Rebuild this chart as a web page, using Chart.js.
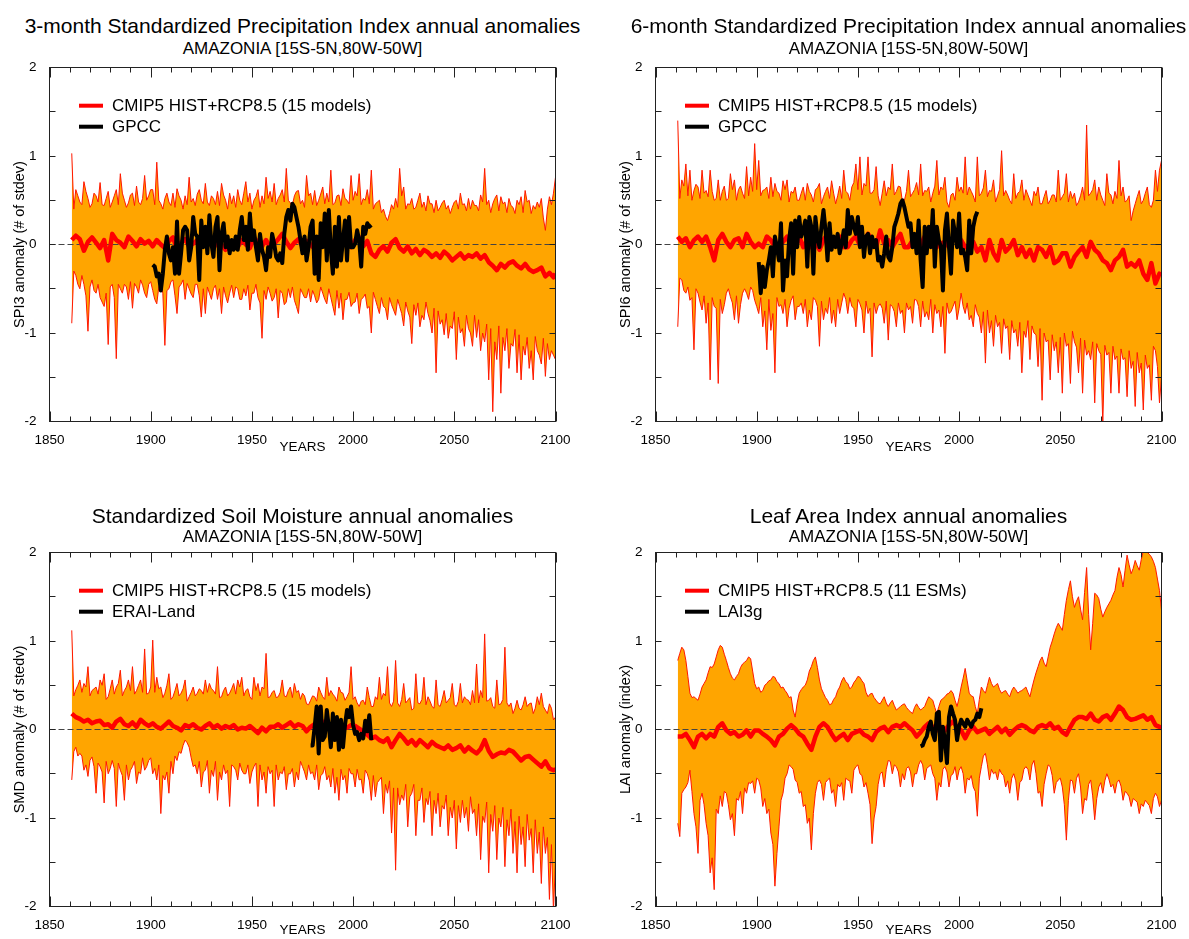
<!DOCTYPE html>
<html>
<head>
<meta charset="utf-8">
<script src="https://cdn.jsdelivr.net/npm/chart.js@4.4.1/dist/chart.umd.min.js"></script>
<style>
html,body{margin:0;padding:0;background:#fff;width:1189px;height:939px;overflow:hidden;position:relative;}
canvas{position:absolute;left:0;top:0;}
.txt{position:absolute;width:800px;text-align:center;white-space:nowrap;line-height:1;color:#000;font-family:"Liberation Sans",Arial,Helvetica,sans-serif;}
</style>
</head>
<body>
<script>
// ---------------- DATA ----------------
// ensemble envelope (annual, first year below)
const envStart = 1861;
// ensemble mean sampled every other year
const meanYears = [
1861,1863,1865,1867,1869,1871,1873,1875,1877,1879,
1881,1883,1885,1887,1889,1891,1893,1895,1897,1899,
1901,1903,1905,1907,1909,1911,1913,1915,1917,1919,
1921,1923,1925,1927,1929,1931,1933,1935,1937,1939,
1941,1943,1945,1947,1949,1951,1953,1955,1957,1959,
1961,1963,1965,1967,1969,1971,1973,1975,1977,1979,
1981,1983,1985,1987,1989,1991,1993,1995,1997,1999,
2001,2003,2005,2007,2009,2011,2013,2015,2017,2019,
2021,2023,2025,2027,2029,2031,2033,2035,2037,2039,
2041,2043,2045,2047,2049,2051,2053,2055,2057,2059,
2061,2063,2065,2067,2069,2071,2073,2075,2077,2079,
2081,2083,2085,2087,2089,2091,2093,2095,2097,2099,
2100];

const xTickLabels = [1850, 1900, 1950, 2000, 2050, 2100];
const yTickLabels = [-2, -1, 0, 1, 2];
const zeroLineX = [1850, 2100];
const zeroLineY = [0, 0];

// Panel 1: SPI3
const spi3Upper = [
1.03,0.40,0.62,0.55,0.48,0.45,0.71,0.60,0.52,0.42,0.46,0.58,0.55,0.48,0.70,0.45,0.44,0.52,0.60,0.42,
0.48,0.55,0.62,0.45,0.80,0.58,0.50,0.42,0.47,0.56,0.58,0.44,0.66,0.48,0.45,0.52,0.78,0.50,0.55,0.62,
0.62,0.45,0.93,0.50,0.46,0.40,0.52,0.58,0.48,0.44,0.58,0.42,0.63,0.55,0.50,0.40,0.55,0.45,0.76,0.48,
0.52,0.44,0.57,0.62,0.50,0.46,0.69,0.48,0.44,0.55,0.52,0.45,0.60,0.44,0.69,0.56,0.50,0.40,0.58,0.46,
0.55,0.42,0.62,0.50,0.45,0.58,0.71,0.48,0.58,0.40,0.50,0.54,0.62,0.42,0.55,0.46,0.76,0.52,0.60,0.48,
0.69,0.45,0.52,0.56,0.62,0.48,0.86,0.50,0.47,0.44,0.55,0.60,0.61,0.46,0.50,0.42,0.78,0.55,0.58,0.45,
0.61,0.44,0.50,0.57,0.65,0.46,0.58,0.48,0.84,0.45,0.47,0.55,0.56,0.44,0.63,0.52,0.50,0.46,0.78,0.50,
0.60,0.55,0.80,0.45,0.52,0.50,0.62,0.46,0.84,0.40,0.46,0.48,0.50,0.36,0.40,0.32,0.27,0.35,0.45,0.40,
0.52,0.42,0.86,0.55,0.65,0.40,0.46,0.45,0.52,0.40,0.42,0.50,0.58,0.42,0.48,0.38,0.55,0.46,0.46,0.36,
0.50,0.38,0.42,0.47,0.50,0.40,0.44,0.35,0.42,0.48,0.50,0.40,0.58,0.45,0.46,0.38,0.52,0.40,0.50,0.44,
0.44,0.38,0.56,0.48,0.86,0.45,0.50,0.36,0.46,0.52,0.56,0.38,0.54,0.46,0.48,0.36,0.52,0.44,0.42,0.35,
0.50,0.45,0.54,0.36,0.61,0.48,0.50,0.35,0.44,0.40,0.48,0.42,0.52,0.30,0.16,0.40,0.54,0.45,0.58,0.76];
const spi3Lower = [
-0.89,-0.30,-0.35,-0.45,-0.50,-0.35,-0.45,-0.58,-0.98,-0.48,-0.40,-0.52,-0.55,-0.45,-0.60,-0.65,-0.70,-0.55,-1.13,-0.48,
-0.45,-0.60,-1.29,-0.45,-0.50,-0.55,-0.45,-0.48,-0.62,-0.42,-0.72,-0.44,-0.48,-0.55,-0.40,-0.46,-0.55,-0.60,-0.45,-0.42,
-0.52,-0.62,-0.67,-0.48,-0.45,-0.55,-1.14,-0.52,-0.50,-0.42,-0.40,-0.58,-0.78,-0.48,-0.45,-0.40,-0.62,-0.44,-0.50,-0.56,
-0.60,-0.45,-0.45,-0.58,-0.82,-0.50,-0.78,-0.48,-0.55,-0.62,-0.50,-0.46,-0.62,-0.50,-0.78,-0.48,-0.58,-0.66,-0.55,-0.46,
-0.60,-0.48,-0.50,-0.62,-0.62,-0.50,-0.58,-0.46,-0.74,-0.55,-0.55,-0.45,-0.60,-0.66,-1.06,-0.52,-0.62,-0.48,-0.55,-0.64,
-0.60,-0.50,-0.83,-0.52,-0.55,-0.68,-0.65,-0.50,-0.60,-0.48,-0.63,-0.70,-0.78,-0.50,-0.55,-0.60,-0.60,-0.50,-0.65,-0.52,
-0.58,-0.66,-0.62,-0.48,-0.55,-0.62,-0.67,-0.50,-0.60,-0.70,-0.80,-0.52,-0.72,-0.55,-0.85,-0.62,-0.62,-0.54,-0.70,-0.66,
-0.65,-0.55,-0.78,-0.62,-0.60,-0.56,-0.72,-0.70,-1.00,-0.54,-0.62,-0.70,-0.78,-0.60,-0.70,-0.72,-0.85,-0.60,-0.68,-0.74,
-0.80,-0.62,-0.70,-0.78,-0.92,-0.65,-0.75,-0.82,-1.12,-0.68,-0.80,-0.66,-0.93,-0.80,-0.85,-0.65,-0.78,-0.86,-1.00,-0.72,
-1.45,-0.75,-0.90,-0.85,-1.02,-0.78,-1.06,-0.92,-0.95,-0.76,-1.30,-0.82,-1.00,-0.95,-1.15,-0.80,-0.95,-1.00,-1.15,-0.80,
-1.05,-0.85,-1.20,-1.00,-1.10,-0.90,-1.53,-0.95,-1.89,-1.10,-1.30,-0.92,-1.68,-1.05,-1.20,-0.95,-1.40,-1.12,-1.15,-0.96,
-1.45,-1.02,-1.53,-1.15,-1.25,-1.05,-1.40,-1.20,-1.53,-1.04,-1.20,-1.25,-1.35,-1.06,-1.49,-1.12,-1.30,-1.20,-1.25,-1.30];
const spi3Mean = [
0.05,0.10,0.06,-0.07,0.03,0.08,0.02,-0.04,0.05,-0.18,
0.12,0.05,0.02,-0.03,0.09,0.04,-0.02,0.06,0.01,0.04,
-0.02,0.05,0.00,-0.04,0.04,0.08,-0.05,0.02,0.06,-0.02,
0.01,0.05,-0.03,0.02,0.07,-0.04,0.03,0.00,-0.06,0.04,
0.02,-0.03,0.05,0.00,-0.04,0.08,0.02,-0.02,0.05,-0.03,
0.01,0.06,0.12,0.03,-0.04,0.02,0.06,-0.02,0.04,0.00,
-0.05,0.03,0.07,-0.02,0.04,0.00,-0.06,0.05,0.02,-0.03,
0.05,0.08,-0.02,0.04,-0.10,-0.14,-0.06,-0.02,-0.08,0.02,
0.06,-0.04,-0.08,-0.02,-0.10,-0.05,-0.12,-0.06,-0.09,-0.14,
-0.10,-0.15,-0.08,-0.12,-0.18,-0.14,-0.10,-0.16,-0.12,-0.14,
-0.10,-0.16,-0.12,-0.20,-0.24,-0.29,-0.22,-0.26,-0.21,-0.19,
-0.24,-0.27,-0.22,-0.28,-0.31,-0.29,-0.26,-0.36,-0.32,-0.37,
-0.33];
const gpccStart = 1901;
const gpccSpi3 = [
-0.23,-0.25,-0.36,-0.33,-0.52,-0.33,-0.06,0.09,-0.10,-0.18,
-0.03,-0.33,0.26,-0.33,-0.10,0.16,0.20,0.16,-0.18,-0.03,
0.31,0.12,0.09,-0.40,0.27,-0.03,0.20,-0.10,0.33,0.01,
-0.14,0.20,0.31,-0.29,0.12,0.24,-0.03,0.09,-0.10,0.05,
-0.06,0.09,-0.06,0.16,0.31,0.05,0.20,-0.06,0.35,0.05,
0.16,-0.03,-0.18,0.12,-0.06,-0.14,-0.29,-0.03,-0.14,0.12,
0.01,-0.14,-0.18,-0.10,-0.21,0.12,0.31,0.39,0.27,0.46,
0.42,0.31,0.20,0.05,-0.10,0.09,-0.18,-0.03,0.20,0.27,
-0.33,0.09,-0.40,0.24,-0.03,0.35,-0.18,0.39,-0.06,-0.33,
0.20,-0.25,0.31,-0.18,0.05,0.27,-0.18,0.31,-0.03,-0.03,
0.01,0.16,0.05,-0.25,0.20,0.12,0.24,0.20,0.22];

// Panel 2: SPI6
const spi6Upper = [
1.40,0.52,0.73,0.66,0.91,0.55,0.84,0.50,0.61,0.68,0.65,0.52,0.84,0.58,0.61,0.54,0.84,0.60,0.50,0.52,
0.73,0.50,0.60,0.66,0.50,0.52,0.80,0.62,0.73,0.50,0.62,0.66,0.58,0.52,0.88,0.55,0.76,0.60,1.14,0.62,
0.95,0.55,0.61,0.62,0.65,0.52,0.76,0.54,0.69,0.60,0.58,0.50,0.72,0.62,0.73,0.48,0.60,0.58,0.65,0.50,
0.50,0.58,0.65,0.50,0.69,0.60,0.56,0.48,0.62,0.64,0.69,0.46,0.54,0.60,0.65,0.52,0.72,0.58,0.46,0.55,
0.66,0.52,0.84,0.60,0.58,0.50,0.65,0.70,0.91,0.62,0.99,0.56,0.69,0.66,0.99,0.58,0.58,0.62,0.88,0.55,
0.44,0.58,0.72,0.55,0.65,0.62,0.91,0.56,0.60,0.66,0.65,0.48,0.50,0.60,0.84,0.54,0.58,0.62,0.70,0.56,
0.91,0.55,0.61,0.60,0.65,0.48,0.58,0.66,0.95,0.56,0.65,0.62,0.76,0.48,0.42,0.56,0.58,0.50,0.76,0.60,
0.65,0.58,0.99,0.56,0.65,0.60,0.55,0.48,0.99,0.55,0.58,0.64,0.84,0.54,0.61,0.60,0.73,0.48,0.55,0.62,
1.06,0.55,0.61,0.56,0.50,0.46,0.80,0.52,0.58,0.60,0.73,0.50,0.62,0.56,0.50,0.44,0.60,0.55,0.65,0.46,
0.46,0.54,0.61,0.46,0.50,0.56,0.56,0.48,0.84,0.50,0.54,0.58,0.80,0.48,0.60,0.52,0.58,0.44,0.48,0.55,
0.65,0.50,1.35,0.55,0.58,0.62,0.73,0.50,0.65,0.56,0.50,0.44,0.80,0.58,0.56,0.46,0.60,0.52,0.95,0.55,
0.65,0.48,0.50,0.55,0.27,0.38,0.46,0.54,0.61,0.46,0.50,0.58,0.65,0.45,0.42,0.50,0.84,0.60,0.84,0.95];
const spi6Lower = [
-0.93,-0.38,-0.40,-0.52,-0.55,-0.48,-0.63,-0.60,-1.19,-0.50,-0.55,-0.65,-0.74,-0.58,-0.89,-0.66,-1.53,-0.60,-0.70,-0.72,
-1.57,-0.62,-0.78,-0.68,-0.55,-0.50,-0.59,-0.66,-0.85,-0.58,-0.89,-0.68,-0.55,-0.50,-0.55,-0.62,-0.48,-0.52,-0.63,-0.70,
-0.78,-0.60,-0.93,-0.75,-1.19,-0.62,-0.97,-0.78,-1.45,-0.60,-0.70,-0.68,-0.78,-0.62,-0.93,-0.72,-0.63,-0.58,-0.85,-0.70,
-0.70,-0.66,-0.78,-0.62,-0.93,-0.74,-0.85,-0.60,-0.63,-0.70,-1.15,-0.64,-0.85,-0.72,-0.78,-0.60,-0.89,-0.74,-0.93,-0.62,
-0.78,-0.66,-0.55,-0.62,-0.78,-0.60,-0.70,-0.72,-0.93,-0.62,-0.67,-0.74,-1.00,-0.64,-0.78,-0.72,-1.27,-0.66,-0.78,-0.70,
-0.67,-0.72,-0.89,-0.64,-1.08,-0.68,-0.70,-0.76,-0.93,-0.66,-0.78,-0.74,-1.00,-0.66,-0.74,-0.70,-0.89,-0.62,-0.63,-0.70,
-0.93,-0.64,-0.82,-0.76,-0.85,-0.62,-1.00,-0.68,-0.78,-0.74,-0.93,-0.70,-1.23,-0.66,-0.78,-0.76,-0.70,-0.64,-0.85,-0.72,
-0.55,-0.70,-0.78,-0.66,-0.85,-0.80,-0.93,-0.68,-0.78,-0.82,-1.00,-0.76,-1.34,-0.74,-1.00,-0.86,-1.15,-0.80,-0.93,-0.88,
-1.23,-0.84,-0.95,-0.92,-1.30,-0.86,-1.00,-0.96,-1.15,-0.88,-1.45,-0.98,-1.05,-0.86,-1.30,-0.92,-1.00,-1.02,-1.38,-0.95,
-1.76,-1.00,-1.10,-1.08,-1.53,-1.02,-1.20,-1.10,-1.45,-1.05,-1.68,-1.00,-1.15,-1.12,-1.57,-0.98,-1.10,-1.16,-1.45,-1.06,
-1.68,-1.08,-1.25,-1.20,-1.30,-1.10,-1.79,-1.12,-1.20,-1.24,-2.02,-1.14,-1.25,-1.22,-1.68,-1.15,-1.30,-1.26,-1.68,-1.18,
-1.30,-1.28,-1.72,-1.20,-1.40,-1.32,-1.83,-1.22,-1.45,-1.34,-1.87,-1.25,-1.40,-1.36,-1.76,-1.15,-1.20,-1.38,-1.79,-1.49];
const spi6Mean = [
0.09,0.03,0.07,-0.03,0.05,0.09,0.03,0.09,-0.03,-0.18,
0.05,0.12,0.03,-0.03,0.05,0.07,-0.03,0.12,0.03,-0.03,
0.01,-0.03,0.09,0.05,-0.03,0.01,0.03,0.09,-0.03,-0.01,
0.09,-0.03,0.05,-0.03,0.03,-0.06,0.05,0.12,-0.03,0.01,
0.09,-0.03,-0.03,0.05,0.09,-0.01,0.03,0.12,0.05,-0.03,
0.16,0.01,0.05,-0.03,0.05,0.12,-0.03,-0.03,0.05,0.09,
-0.01,0.09,-0.01,0.09,-0.03,0.01,0.03,-0.03,0.05,0.09,
0.05,-0.03,-0.03,0.03,-0.08,-0.03,-0.18,0.05,-0.10,-0.18,
0.05,-0.08,-0.03,0.05,-0.12,-0.03,-0.14,-0.06,-0.18,-0.03,
-0.06,-0.14,-0.03,-0.21,-0.18,-0.10,-0.10,-0.25,-0.14,-0.08,
-0.03,-0.14,0.03,-0.06,-0.10,-0.18,-0.21,-0.29,-0.18,-0.14,
-0.06,-0.25,-0.21,-0.25,-0.18,-0.33,-0.40,-0.21,-0.44,-0.33,
-0.35];
const gpccSpi6 = [
-0.20,-0.55,-0.25,-0.48,-0.29,-0.18,-0.03,-0.36,0.09,-0.03,
-0.18,0.24,-0.52,-0.18,-0.36,0.05,0.24,-0.33,0.27,-0.03,
0.31,0.09,0.16,0.27,-0.25,0.31,0.20,-0.33,0.31,0.09,
-0.03,0.20,0.39,0.16,-0.18,0.24,-0.06,0.09,-0.03,0.12,
-0.10,0.01,0.16,-0.03,0.39,0.12,0.31,0.20,0.12,0.31,
-0.03,0.20,-0.14,0.09,0.12,-0.10,0.09,-0.03,0.05,-0.18,
-0.14,-0.25,-0.10,0.09,-0.14,-0.18,-0.03,0.20,0.27,0.35,
0.46,0.50,0.42,0.31,0.20,0.24,-0.03,0.12,-0.10,0.27,
-0.18,-0.48,0.20,-0.10,0.20,-0.03,0.39,-0.25,0.20,0.05,
-0.03,-0.52,0.16,0.35,-0.03,-0.33,0.27,0.12,-0.03,0.35,
-0.10,-0.06,-0.14,-0.29,0.27,-0.10,0.20,0.31,0.37];

// Panel 3: Soil moisture
const smdUpper = [
1.12,0.38,0.45,0.50,0.56,0.42,0.52,0.48,0.71,0.38,0.44,0.46,0.48,0.40,0.56,0.50,0.63,0.34,0.37,0.46,
0.56,0.40,0.48,0.52,0.67,0.38,0.44,0.48,0.56,0.44,0.71,0.40,0.44,0.50,0.56,0.42,0.91,0.40,0.41,0.48,
1.01,0.42,0.59,0.46,0.48,0.36,0.41,0.50,0.63,0.34,0.37,0.44,0.52,0.38,0.41,0.46,0.56,0.32,0.37,0.42,
0.48,0.38,0.41,0.46,0.44,0.40,0.56,0.42,0.52,0.46,0.44,0.40,0.71,0.36,0.37,0.44,0.48,0.38,0.41,0.46,
0.52,0.40,0.56,0.48,0.59,0.38,0.44,0.46,0.37,0.34,0.59,0.44,0.52,0.38,0.48,0.46,0.86,0.36,0.37,0.42,
0.44,0.36,0.37,0.42,0.56,0.38,0.37,0.44,0.48,0.36,0.52,0.42,0.44,0.34,0.41,0.38,0.29,0.28,0.33,0.38,
0.37,0.32,0.48,0.42,0.37,0.34,0.59,0.38,0.44,0.40,0.37,0.32,0.48,0.42,0.41,0.33,0.37,0.42,0.71,0.34,
0.37,0.30,0.26,0.32,0.33,0.28,0.48,0.36,0.26,0.26,0.37,0.34,0.59,0.34,0.41,0.38,0.71,0.30,0.26,0.32,
0.78,0.30,0.26,0.34,0.52,0.30,0.33,0.36,0.22,0.24,0.63,0.30,0.29,0.34,0.59,0.28,0.37,0.32,0.26,0.24,
0.56,0.28,0.26,0.34,0.44,0.30,0.33,0.36,0.52,0.28,0.26,0.32,0.52,0.30,0.37,0.34,0.33,0.28,0.44,0.30,
0.74,0.30,0.44,0.36,1.08,0.32,0.33,0.36,0.26,0.24,0.56,0.28,0.29,0.34,0.93,0.30,0.26,0.30,0.18,0.24,
0.33,0.24,0.22,0.28,0.37,0.26,0.29,0.30,0.18,0.24,0.37,0.28,0.41,0.26,0.22,0.18,0.29,0.24,0.11,0.14];
const smdLower = [
-0.57,-0.25,-0.20,-0.30,-0.27,-0.30,-0.46,-0.40,-0.53,-0.35,-0.31,-0.42,-0.72,-0.38,-0.42,-0.48,-0.83,-0.36,-0.50,-0.44,
-0.35,-0.44,-0.87,-0.38,-0.46,-0.52,-0.80,-0.40,-0.57,-0.46,-0.42,-0.36,-0.61,-0.48,-0.50,-0.32,-0.46,-0.42,-0.35,-0.32,
-0.50,-0.44,-0.57,-0.40,-0.95,-0.52,-0.57,-0.48,-0.72,-0.36,-0.50,-0.30,-0.35,-0.25,-0.27,-0.18,-0.12,-0.15,-0.20,-0.32,
-0.42,-0.40,-0.50,-0.36,-0.65,-0.48,-0.46,-0.35,-0.72,-0.46,-0.53,-0.36,-0.80,-0.48,-0.57,-0.40,-0.50,-0.46,-0.87,-0.40,
-0.42,-0.46,-0.57,-0.38,-0.46,-0.50,-0.50,-0.40,-0.61,-0.48,-0.42,-0.38,-0.87,-0.40,-0.57,-0.48,-0.72,-0.42,-0.50,-0.46,
-0.87,-0.40,-0.57,-0.48,-0.50,-0.42,-0.68,-0.50,-0.50,-0.44,-0.65,-0.48,-0.57,-0.36,-0.42,-0.48,-0.57,-0.40,-0.50,-0.48,
-0.57,-0.40,-0.68,-0.52,-0.50,-0.42,-0.57,-0.52,-0.65,-0.44,-0.72,-0.54,-0.80,-0.45,-0.57,-0.52,-0.72,-0.44,-0.50,-0.50,
-0.65,-0.45,-0.57,-0.56,-0.72,-0.46,-0.50,-0.58,-0.80,-0.52,-0.76,-0.60,-0.57,-0.54,-0.95,-0.62,-0.72,-0.58,-1.17,-0.66,
-1.59,-0.66,-0.85,-0.74,-0.80,-0.62,-1.10,-0.76,-0.72,-0.62,-1.20,-0.80,-0.80,-0.66,-1.05,-0.78,-0.85,-0.70,-1.20,-0.80,
-0.95,-0.72,-1.10,-0.86,-0.90,-0.74,-1.20,-0.88,-1.00,-0.80,-1.35,-0.86,-1.05,-0.80,-1.00,-0.88,-1.15,-0.76,-0.95,-0.90,
-1.20,-0.84,-1.47,-0.98,-1.05,-0.82,-1.62,-0.96,-1.15,-0.86,-1.47,-1.00,-1.10,-0.88,-1.55,-1.02,-1.20,-0.90,-1.40,-1.04,
-1.62,-0.98,-1.30,-1.10,-1.55,-0.96,-1.25,-1.12,-1.62,-1.02,-1.40,-1.16,-1.74,-1.10,-1.40,-1.22,-1.92,-1.30,-2.05,-1.47];
const smdMean = [
0.18,0.14,0.12,0.09,0.11,0.07,0.09,0.10,0.05,0.06,
0.02,0.09,0.12,0.06,0.04,0.08,0.03,0.11,0.07,0.04,
0.07,0.03,0.01,0.05,0.09,0.04,0.02,-0.01,0.05,0.03,
0.06,0.02,0.00,0.04,0.07,0.02,0.05,0.01,0.04,0.02,
0.05,0.00,0.02,0.01,0.04,0.00,-0.04,0.02,-0.02,0.03,
0.03,0.06,0.02,0.05,0.08,0.03,0.06,0.04,-0.02,0.03,
0.06,0.03,0.09,0.04,0.02,0.05,-0.01,0.04,0.02,0.05,
0.04,0.01,-0.02,-0.06,-0.10,-0.08,-0.12,-0.14,-0.10,-0.20,
-0.12,-0.05,-0.10,-0.16,-0.12,-0.18,-0.12,-0.16,-0.20,-0.14,
-0.18,-0.20,-0.22,-0.18,-0.23,-0.21,-0.18,-0.25,-0.20,-0.24,
-0.27,-0.22,-0.12,-0.24,-0.31,-0.28,-0.26,-0.27,-0.23,-0.25,
-0.30,-0.35,-0.31,-0.30,-0.34,-0.38,-0.42,-0.36,-0.44,-0.46,
-0.45];
const eraiStart = 1979;
const eraiSmd = [
-0.18,-0.18,0.03,0.26,-0.27,0.26,-0.12,-0.08,0.22,0.03,
-0.20,0.18,-0.12,0.14,-0.23,0.11,-0.20,0.05,0.22,0.14,
0.26,0.05,-0.05,-0.03,-0.12,-0.05,-0.10,0.10,-0.02,0.16,
-0.12];

// Panel 4: Leaf Area Index
const laiUpper = [
0.78,0.86,0.93,0.90,0.78,0.60,0.41,0.36,0.37,0.35,0.33,0.40,0.48,0.52,0.56,0.64,0.71,0.70,0.74,0.82,
0.90,0.95,0.93,0.85,0.78,0.70,0.63,0.58,0.56,0.60,0.63,0.70,0.74,0.76,0.78,0.82,0.80,0.66,0.52,0.46,
0.48,0.42,0.44,0.50,0.52,0.55,0.56,0.60,0.59,0.54,0.52,0.47,0.48,0.44,0.41,0.36,0.37,0.22,0.14,0.30,
0.41,0.45,0.48,0.50,0.56,0.66,0.71,0.78,0.82,0.70,0.56,0.46,0.41,0.36,0.33,0.28,0.29,0.34,0.37,0.44,
0.48,0.55,0.59,0.54,0.52,0.46,0.48,0.53,0.56,0.60,0.59,0.55,0.52,0.42,0.37,0.40,0.41,0.36,0.33,0.30,
0.29,0.33,0.37,0.30,0.26,0.30,0.33,0.27,0.22,0.24,0.26,0.28,0.29,0.25,0.22,0.20,0.18,0.25,0.29,0.25,
0.22,0.24,0.26,0.32,0.37,0.35,0.33,0.25,0.18,0.26,0.33,0.35,0.37,0.40,0.41,0.44,0.41,0.33,0.26,0.36,
0.48,0.58,0.69,0.55,0.41,0.38,0.37,0.26,0.18,0.34,0.48,0.44,0.41,0.50,0.59,0.52,0.48,0.50,0.52,0.45,
0.41,0.43,0.44,0.40,0.37,0.44,0.48,0.45,0.41,0.43,0.44,0.46,0.48,0.42,0.37,0.47,0.56,0.64,0.71,0.78,
0.82,0.75,0.71,0.82,0.93,1.00,1.08,1.15,1.20,1.16,1.12,1.30,1.46,1.58,1.68,1.50,1.38,1.45,1.50,1.36,
1.24,1.55,1.83,1.30,0.90,1.20,1.54,1.52,1.48,1.36,1.27,1.33,1.38,1.42,1.46,1.52,1.57,1.72,1.83,1.75,
1.61,1.80,1.97,1.86,1.76,1.82,1.91,1.85,1.80,1.92,2.02,2.05,2.00,1.98,1.95,1.90,1.83,1.70,1.57,1.35];
const laiLower = [
-1.06,-1.21,-0.72,-0.68,-0.65,-0.60,-0.46,-0.70,-0.95,-1.10,-1.40,-0.80,-0.72,-0.85,-1.06,-1.20,-1.62,-1.45,-1.81,-0.90,
-0.95,-0.75,-0.87,-0.70,-0.72,-0.85,-1.02,-0.95,-1.20,-0.78,-0.80,-0.70,-0.95,-0.66,-0.72,-0.60,-0.61,-0.58,-0.72,-0.55,
-0.57,-0.66,-0.87,-0.78,-0.95,-0.90,-1.17,-1.30,-1.77,-1.40,-1.10,-0.80,-0.72,-0.55,-0.50,-0.40,-0.42,-0.45,-0.57,-0.60,
-0.72,-0.70,-0.87,-0.85,-1.06,-1.00,-1.36,-0.95,-0.72,-0.60,-0.57,-0.62,-0.80,-0.60,-0.57,-0.55,-0.72,-0.68,-0.87,-0.62,
-0.65,-0.60,-0.80,-0.55,-0.57,-0.58,-0.72,-0.46,-0.42,-0.40,-0.50,-0.52,-0.65,-0.60,-0.72,-0.85,-1.29,-1.00,-0.87,-0.62,
-0.50,-0.48,-0.65,-0.45,-0.35,-0.36,-0.50,-0.40,-0.42,-0.48,-0.65,-0.50,-0.57,-0.44,-0.42,-0.48,-0.65,-0.50,-0.50,-0.40,
-0.35,-0.40,-0.57,-0.44,-0.42,-0.40,-0.50,-0.55,-0.80,-0.60,-0.65,-0.45,-0.42,-0.48,-0.65,-0.52,-0.50,-0.42,-0.57,-0.46,
-0.42,-0.50,-0.72,-0.55,-0.57,-0.52,-0.65,-0.70,-0.98,-0.55,-0.42,-0.30,-0.27,-0.40,-0.57,-0.45,-0.50,-0.48,-0.57,-0.45,
-0.50,-0.52,-0.65,-0.58,-0.72,-0.55,-0.50,-0.58,-0.80,-0.60,-0.57,-0.45,-0.42,-0.45,-0.57,-0.40,-0.35,-0.50,-0.72,-0.70,
-0.87,-0.62,-0.50,-0.40,-0.42,-0.52,-0.72,-0.60,-0.57,-0.55,-0.65,-0.85,-1.25,-0.80,-0.57,-0.58,-0.72,-0.55,-0.50,-0.65,
-0.95,-0.78,-0.80,-0.62,-0.57,-0.75,-1.02,-0.78,-0.65,-0.60,-0.72,-0.58,-0.50,-0.56,-0.65,-0.62,-0.72,-0.60,-0.57,-0.64,
-0.80,-0.70,-0.72,-0.76,-0.87,-0.78,-0.80,-0.82,-0.95,-0.84,-0.87,-0.80,-0.83,-0.86,-0.95,-0.78,-0.72,-0.76,-0.87,-0.80];
const laiMean = [
-0.08,-0.08,-0.05,-0.12,-0.20,-0.08,-0.05,-0.10,-0.05,-0.08,
0.03,0.07,-0.01,-0.05,-0.03,-0.08,-0.06,-0.01,-0.08,-0.01,
-0.01,-0.05,-0.08,-0.12,-0.18,-0.08,-0.05,0.01,0.05,0.01,
-0.05,-0.08,-0.16,-0.23,-0.08,0.03,0.07,0.03,-0.05,-0.12,
-0.08,-0.05,-0.12,-0.05,-0.03,-0.01,-0.06,-0.08,-0.12,-0.03,
0.01,0.03,-0.03,0.03,0.05,0.03,0.07,0.03,-0.01,-0.08,
-0.03,0.03,0.07,0.03,-0.01,0.03,-0.01,0.05,0.09,0.03,
-0.01,-0.10,-0.01,0.03,-0.03,-0.01,0.01,-0.05,-0.01,0.03,
-0.03,0.01,-0.06,-0.01,0.03,0.05,0.03,-0.01,-0.03,0.03,
0.05,0.03,0.07,0.01,0.03,-0.03,-0.06,0.03,0.11,0.14,
0.14,0.12,0.18,0.11,0.09,0.14,0.16,0.11,0.18,0.26,
0.22,0.14,0.11,0.12,0.14,0.16,0.11,0.14,0.05,0.03,
0.01];
const lai3gStart = 1981;
const lai3g = [
-0.19,-0.18,-0.12,-0.08,0.03,0.09,-0.05,-0.12,0.18,0.20,
-0.35,0.03,-0.12,-0.38,0.14,0.26,0.18,0.11,-0.12,0.03,
0.11,0.07,0.03,0.11,0.07,0.03,0.09,0.11,0.18,0.14,0.24];

// ---------------- LAYOUT / STYLE ----------------
const W = 1189, H = 939;
const FONT = '"Liberation Sans", Arial, Helvetica, sans-serif';
const SUBTITLE = 'AMAZONIA [15S-5N,80W-50W]';

const panels = [
  {box:{l:49.5,t:67.5,r:555.5,b:421.5}, xAxisH:33, titleY:25, subY:48,
   title:'3-month Standardized Precipitation Index annual anomalies',
   yTitle:'SPI3 anomaly (# of stdev)',
   legend:['CMIP5 HIST+RCP8.5 (15 models)','GPCC'],
   upper:spi3Upper, lower:spi3Lower, mean:spi3Mean, obs:gpccSpi3, obsStart:gpccStart},
  {box:{l:655.5,t:67.5,r:1161.5,b:421.5}, xAxisH:33, titleY:25, subY:48,
   title:'6-month Standardized Precipitation Index annual anomalies',
   yTitle:'SPI6 anomaly (# of stdev)',
   legend:['CMIP5 HIST+RCP8.5 (15 models)','GPCC'],
   upper:spi6Upper, lower:spi6Lower, mean:spi6Mean, obs:gpccSpi6, obsStart:gpccStart},
  {box:{l:49.5,t:552.5,r:555.5,b:906.5}, xAxisH:31, titleY:515, subY:536,
   title:'Standardized Soil Moisture annual anomalies',
   yTitle:'SMD anomaly (# of stedv)',
   legend:['CMIP5 HIST+RCP8.5 (15 models)','ERAI-Land'],
   upper:smdUpper, lower:smdLower, mean:smdMean, obs:eraiSmd, obsStart:eraiStart},
  {box:{l:655.5,t:552.5,r:1161.5,b:906.5}, xAxisH:31, titleY:515, subY:536,
   title:'Leaf Area Index annual anomalies',
   yTitle:'LAI anomaly (index)',
   legend:['CMIP5 HIST+RCP8.5 (11 ESMs)','LAI3g'],
   upper:laiUpper, lower:laiLower, mean:laiMean, obs:lai3g, obsStart:lai3gStart}
];

Chart.defaults.font.family = FONT;
Chart.defaults.color = '#000';

const framePlugin = {
  id: 'frameTicks',
  afterDraw(chart) {
    const {ctx, chartArea: a, scales: {x, y}} = chart;
    ctx.save();
    ctx.strokeStyle = '#222';
    ctx.lineWidth = 1;
    ctx.beginPath();
    for (let yr = x.min; yr <= x.max; yr += 10) {
      const px = Math.round(x.getPixelForValue(yr)) + 0.5;
      const len = (yr % 50 === 0) ? 10 : 5;
      ctx.moveTo(px, a.bottom); ctx.lineTo(px, a.bottom - len);
      ctx.moveTo(px, a.top); ctx.lineTo(px, a.top + len);
    }
    for (let v = y.min; v <= y.max + 1e-9; v += 0.5) {
      const py = Math.round(y.getPixelForValue(v) - 0.5) + 0.5;
      ctx.moveTo(a.left, py); ctx.lineTo(a.left + 6, py);
      ctx.moveTo(a.right, py); ctx.lineTo(a.right - 6, py);
    }
    ctx.stroke();
    ctx.strokeRect(a.left, a.top, a.right - a.left, a.bottom - a.top);
    ctx.restore();
  }
};

const legendPlugin = {
  id: 'innerLegend',
  afterDatasetsDraw(chart) {
    const {ctx, chartArea: a} = chart;
    const items = [chart.data.datasets[1], chart.data.datasets[0]];
    const rows = [38.2, 59.2];
    ctx.save();
    items.forEach((ds, i) => {
      const yy = a.top + rows[i];
      ctx.strokeStyle = ds.borderColor;
      ctx.lineWidth = 4;
      ctx.lineCap = 'butt';
      ctx.beginPath();
      ctx.moveTo(a.left + 29.5, yy);
      ctx.lineTo(a.left + 53.5, yy);
      ctx.stroke();
      ctx.fillStyle = '#000';
      ctx.font = '17px ' + FONT;
      ctx.textBaseline = 'middle';
      ctx.textAlign = 'left';
      ctx.fillText(ds.label, a.left + 62.5, yy + 0.5);
    });
    ctx.restore();
  }
};

function addText(txt, cx, cy, size) {
  const d = document.createElement('div');
  d.className = 'txt';
  d.textContent = txt;
  d.style.fontSize = size + 'px';
  d.style.left = (cx - 400) + 'px';
  d.style.top = (cy - size / 2) + 'px';
  document.body.appendChild(d);
}

panels.forEach(p => {
  const cx = (p.box.l + p.box.r) / 2;
  addText(p.title, cx, p.titleY, 21);
  addText(SUBTITLE, cx, p.subY, 17);

  const cv = document.createElement('canvas');
  cv.width = W; cv.height = H;
  cv.style.width = W + 'px'; cv.style.height = H + 'px';
  document.body.appendChild(cv);

  const toPts = (xs, ys) => xs.map((xv, i) => ({x: xv, y: ys[i]}));
  const annual = (start, vals) => vals.map((v, i) => ({x: start + i, y: v}));

  new Chart(cv, {
    type: 'line',
    data: {
      datasets: [
        {label: p.legend[1], data: annual(p.obsStart, p.obs), borderColor: '#000000', borderWidth: 4,
         borderJoinStyle: 'round', fill: false},
        {label: p.legend[0], data: toPts(meanYears, p.mean), borderColor: '#ff0000', borderWidth: 4.5,
         borderJoinStyle: 'round', fill: false},
        {label: 'zero', data: toPts(zeroLineX, zeroLineY), borderColor: '#444444', borderWidth: 1,
         borderDash: [6, 3], fill: false},
        {label: 'max', data: annual(envStart, p.upper), borderColor: '#ff1800', borderWidth: 1, fill: false},
        {label: 'min', data: annual(envStart, p.lower), borderColor: '#ff1800', borderWidth: 1,
         backgroundColor: '#ffa500', fill: 3}
      ]
    },
    options: {
      responsive: false,
      animation: false,
      devicePixelRatio: 1,
      events: [],
      elements: {point: {radius: 0, hoverRadius: 0}, line: {tension: 0}},
      layout: {padding: {left: p.box.l - 49.5, top: p.box.t, right: W - p.box.r, bottom: H - p.box.b - p.xAxisH}},
      plugins: {legend: {display: false}, tooltip: {enabled: false}, title: {display: false}},
      scales: {
        x: {
          type: 'linear', min: 1850, max: 2100,
          grid: {display: false}, border: {display: false},
          afterBuildTicks: s => { s.ticks = xTickLabels.map(v => ({value: v})); },
          afterFit: s => { s.height = p.xAxisH; },
          ticks: {font: {size: 13.5}, color: '#000', padding: 3, autoSkip: false, maxRotation: 0,
                  callback: v => String(v)},
          title: {display: true, text: 'YEARS', color: '#000', font: {size: 13.5, lineHeight: 1},
                  padding: {top: 0, bottom: 0}}
        },
        y: {
          type: 'linear', min: -2, max: 2,
          grid: {display: false}, border: {display: false},
          afterBuildTicks: s => { s.ticks = yTickLabels.map(v => ({value: v})); },
          afterFit: s => { s.width = 49.5; },
          ticks: {font: {size: 13.5}, color: '#000', padding: 5, callback: v => String(v)},
          title: {display: true, text: p.yTitle, color: '#000', font: {size: 14.5},
                  padding: {top: 11.5, bottom: 0}}
        }
      }
    },
    plugins: [legendPlugin, framePlugin]
  });
});
</script>
</body>
</html>
